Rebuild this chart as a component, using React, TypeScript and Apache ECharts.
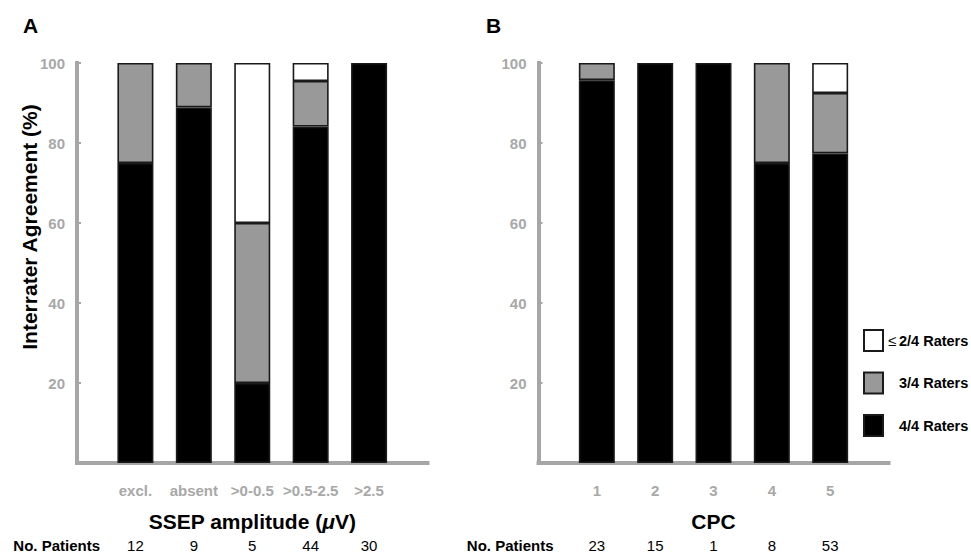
import React, { useEffect, useRef } from "react";
import * as echarts from "echarts";

// ---- data ----
const seriesNames = ["≤2/4 Raters", "3/4 Raters", "4/4 Raters"];

const categoriesA = ["excl.", "absent", ">0-0.5", ">0.5-2.5", ">2.5"];
const patientsA = ["12", "9", "5", "44", "30"];
const fourA = [75, 88.9, 20, 84.1, 100];
const threeA = [25, 11.1, 40, 11.4, 0];
const twoA = [0, 0, 40, 4.5, 0];

const categoriesB = ["1", "2", "3", "4", "5"];
const patientsB = ["23", "15", "1", "8", "53"];
const fourB = [95.7, 100, 100, 75, 77.4];
const threeB = [4.3, 0, 0, 25, 15.1];
const twoB = [0, 0, 0, 0, 7.5];

const yTitle = "Interrater Agreement (%)";
const xTitleA = "SSEP amplitude ({i|μ}V)";
const xTitleB = "CPC";
const patientsLabel = "No. Patients";

// ---- helpers ----
const FONT = '"Liberation Sans", Arial, Helvetica, sans-serif';
const AXIS_GREY = "#a6a6a6";
const LABEL_GREY = "#a8a8a8";
const padCats = (a: string[]) => ["", ...a, ""];
const padVals = (a: number[]) => ["-", ...a.map((v) => (v === 0 ? "-" : v)), "-"];

const colors: Record<string, string> = {
  "≤2/4 Raters": "#ffffff",
  "3/4 Raters": "#999999",
  "4/4 Raters": "#000000",
};

function makeGridAxes(gridIndex: number, cats: string[], patients: string[], xName: string, nameGap: number) {
  const main = {
    type: "category",
    gridIndex,
    data: padCats(cats),
    boundaryGap: false,
    offset: 3,
    axisLine: { show: true, lineStyle: { color: AXIS_GREY, width: 4, cap: "square" } },
    axisTick: { show: false },
    axisLabel: {
      interval: 0,
      margin: 17,
      color: LABEL_GREY,
      fontWeight: "bold",
      fontSize: 15,
      fontFamily: FONT,
    },
    name: xName,
    nameLocation: "middle",
    nameGap: 45,
    nameTextStyle: {
      color: "#000",
      fontWeight: "bold",
      fontSize: 21,
      fontFamily: FONT,
      rich: {
        i: { fontStyle: "italic", fontWeight: "bold", fontSize: 21, fontFamily: FONT, color: "#000" },
      },
    },
  };
  const pat = {
    type: "category",
    gridIndex,
    position: "bottom",
    data: padCats(patients),
    boundaryGap: false,
    offset: 82,
    axisLine: { show: false },
    axisTick: { show: false },
    axisLabel: {
      interval: 0,
      margin: 0,
      verticalAlign: "middle",
      color: "#000",
      fontSize: 15,
      fontFamily: FONT,
    },
    name: patientsLabel,
    nameLocation: "start",
    nameGap,
    nameTextStyle: {
      color: "#000",
      fontWeight: "bold",
      fontSize: 15,
      fontFamily: FONT,
      verticalAlign: "middle",
    },
  };
  return [main, pat];
}

function makeYAxis(gridIndex: number) {
  return {
    type: "value",
    gridIndex,
    min: 0,
    max: 100,
    interval: 20,
    splitLine: { show: false },
    axisLine: { show: true, lineStyle: { color: AXIS_GREY, width: 4, cap: "square" } },
    axisTick: { show: true, inside: true, length: 4, lineStyle: { color: AXIS_GREY, width: 2 } },
    axisLabel: {
      margin: 12,
      color: LABEL_GREY,
      fontWeight: "bold",
      fontSize: 15,
      fontFamily: FONT,
      formatter: (v: number) => (v === 0 ? "" : String(v)),
    },
  };
}

function makeSeries(xAxisIndex: number, yAxisIndex: number, stack: string, four: number[], three: number[], two: number[]) {
  const sets: [string, number[]][] = [
    ["4/4 Raters", four],
    ["3/4 Raters", three],
    ["≤2/4 Raters", two],
  ];
  return sets.map(([name, vals]) => ({
    type: "bar",
    name,
    xAxisIndex,
    yAxisIndex,
    stack,
    barWidth: 36,
    data: padVals(vals),
    itemStyle: {
      color: colors[name],
      borderColor: "#1a1a1a",
      borderWidth: 1.6,
    },
  }));
}

export default function App() {
  const ref = useRef<HTMLDivElement>(null);
  useEffect(() => {
    if (!ref.current) return;
    const chart = echarts.init(ref.current, null, { renderer: "svg" });
    const [xa, pa] = makeGridAxes(0, categoriesA, patientsA, xTitleA, -23);
    const [xb, pb] = makeGridAxes(1, categoriesB, patientsB, xTitleB, -15);
    chart.setOption({
      animation: false,
      backgroundColor: "#ffffff",
      title: [
        { text: "A", left: 18, top: 10, textStyle: { fontSize: 21, fontWeight: "bold", color: "#000", fontFamily: FONT } },
        { text: "B", left: 481, top: 10, textStyle: { fontSize: 21, fontWeight: "bold", color: "#000", fontFamily: FONT } },
      ],
      grid: [
        { left: 77, top: 63, width: 350.5, height: 400 },
        { left: 538.5, top: 63, width: 350, height: 400 },
      ],
      xAxis: [xa, pa, xb, pb],
      yAxis: [makeYAxis(0), makeYAxis(1)],
      legend: {
        data: seriesNames,
        orient: "vertical",
        left: 858,
        top: 324,
        itemWidth: 19,
        itemHeight: 21,
        itemGap: 19.5,
        icon: "rect",
        selectedMode: false,
        formatter: (name: string) =>
          name.startsWith("≤") ? `{le|≤}{b|${name.slice(1)}}` : `{le| }{b|${name}}`,
        textStyle: {
          rich: {
            le: { width: 11, align: "left", fontSize: 15, fontFamily: FONT, color: "#000" },
            b: { fontSize: 14.5, fontWeight: "bold", fontFamily: FONT, color: "#000" },
          },
        },
      },
      graphic: [
        {
          type: "text",
          x: 29,
          y: 227,
          rotation: Math.PI / 2,
          style: {
            text: yTitle,
            fontSize: 21,
            fontWeight: "bold",
            fontFamily: FONT,
            fill: "#000",
            align: "center",
            verticalAlign: "middle",
          },
        },
      ],
      series: [
        ...makeSeries(0, 0, "A", fourA, threeA, twoA),
        ...makeSeries(2, 1, "B", fourB, threeB, twoB),
      ],
    });
    return () => chart.dispose();
  }, []);
  return <div ref={ref} style={{ position: "fixed", left: 0, top: 0, width: 971, height: 556 }} />;
}
